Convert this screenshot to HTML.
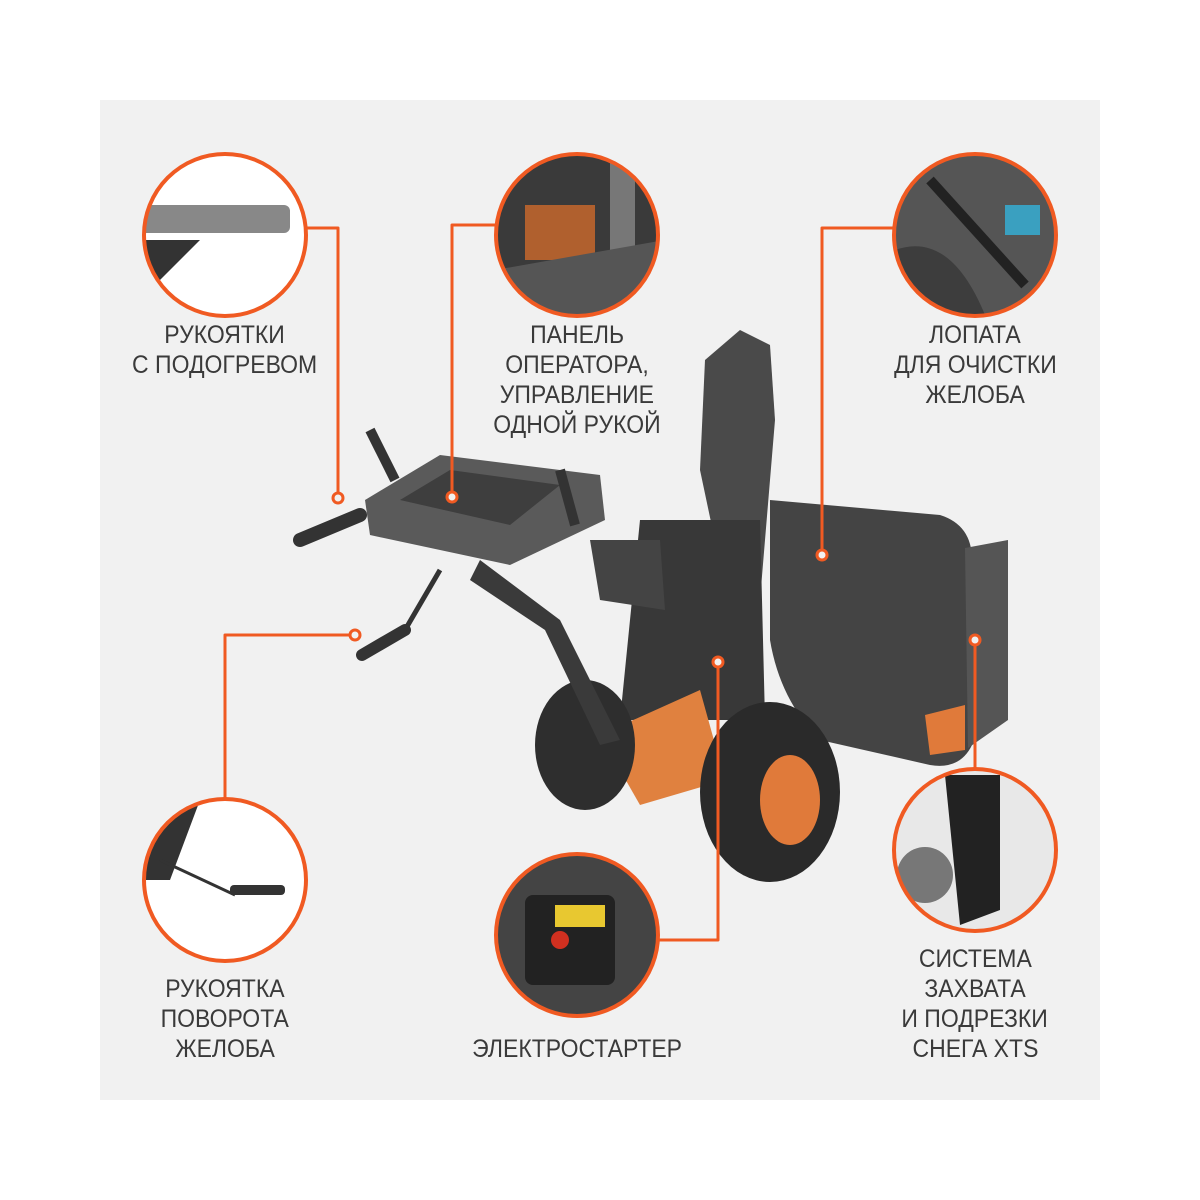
<!DOCTYPE html>
<html><head><meta charset="utf-8"><style>
body{margin:0;width:1200px;height:1200px;background:#fff;position:relative;overflow:hidden;font-family:"Liberation Sans",sans-serif}
.panel{position:absolute;left:100px;top:100px;width:1000px;height:1000px;background:#f1f1f1}
.lbl{position:absolute;width:300px;text-align:center;color:#3a3a3a;font-size:25px;line-height:30px}
.lbl span{display:inline-block;transform:scaleX(.92);transform-origin:center;white-space:nowrap}
svg{position:absolute;left:0;top:0}
</style></head><body>
<div class="panel"></div>
<svg width="1200" height="1200" viewBox="0 0 1200 1200">
<defs><clipPath id="c1"><circle cx="225" cy="235" r="80"/></clipPath>
<clipPath id="c2"><circle cx="577" cy="235" r="80"/></clipPath>
<clipPath id="c3"><circle cx="975" cy="235" r="80"/></clipPath>
<clipPath id="c4"><circle cx="225" cy="880" r="80"/></clipPath>
<clipPath id="c5"><circle cx="577" cy="935" r="80"/></clipPath>
<clipPath id="c6"><circle cx="975" cy="850" r="80"/></clipPath></defs>
<g>
<path d="M770 500 L940 515 Q972 525 972 560 L972 745 Q960 770 930 765 L820 740 Q780 700 770 640 Z" fill="#444"/>
<path d="M965 548 L1008 540 L1008 720 L968 748 Z" fill="#555"/>
<path d="M925 715 L965 705 L965 750 L930 755 Z" fill="#e07a3a"/>
<path d="M705 360 L740 330 L770 345 L775 420 L760 600 L730 612 L700 470 Z" fill="#4a4a4a"/>
<path d="M640 520 L760 520 L765 720 L620 720 Z" fill="#383838"/>
<path d="M600 735 L700 690 L725 780 L640 805 Z" fill="#e0813f"/>
<ellipse cx="585" cy="745" rx="50" ry="65" fill="#2e2e2e"/>
<ellipse cx="770" cy="792" rx="70" ry="90" fill="#2a2a2a"/>
<ellipse cx="790" cy="800" rx="30" ry="45" fill="#e07a3a"/>
<path d="M480 560 L560 620 L620 740 L600 745 L545 630 L470 580 Z" fill="#3a3a3a"/>
<path d="M365 500 L440 455 L600 475 L605 520 L510 565 L370 535 Z" fill="#5a5a5a"/>
<path d="M400 500 L450 470 L560 485 L510 525 Z" fill="#3e3e3e"/>
<line x1="300" y1="540" x2="360" y2="515" stroke="#333" stroke-width="14" stroke-linecap="round"/>
<line x1="362" y1="655" x2="405" y2="630" stroke="#333" stroke-width="12" stroke-linecap="round"/>
<line x1="405" y1="630" x2="440" y2="570" stroke="#333" stroke-width="5"/>
<line x1="370" y1="430" x2="395" y2="480" stroke="#333" stroke-width="10"/>
<line x1="560" y1="470" x2="575" y2="525" stroke="#333" stroke-width="10"/>
<path d="M590 540 L660 540 L665 610 L600 600 Z" fill="#444"/>
</g>
<g fill="none" stroke="#f05a22" stroke-width="3" stroke-linejoin="round">
<path d="M305 228 H338 V492"/>
<path d="M497 225 H452 V491"/>
<path d="M895 228 H822 V549"/>
<path d="M225 800 V635 H349"/>
<path d="M657 940 H718 V668"/>
<path d="M975 770 V646"/>
</g>
<g fill="#f1f1f1" stroke="#f05a22" stroke-width="3">
<circle cx="338" cy="498" r="5"/><circle cx="452" cy="497" r="5"/><circle cx="822" cy="555" r="5"/>
<circle cx="355" cy="635" r="5"/><circle cx="718" cy="662" r="5"/><circle cx="975" cy="640" r="5"/>
</g>
<g fill="#fff"><circle cx="225" cy="235" r="80"/><circle cx="577" cy="235" r="80"/><circle cx="975" cy="235" r="80"/><circle cx="225" cy="880" r="80"/><circle cx="577" cy="935" r="80"/><circle cx="975" cy="850" r="80"/></g>
<g clip-path="url(#c1)"><rect x="140" y="205" width="150" height="28" rx="6" fill="#888"/><path d="M140 240 L200 240 L150 290 L140 290Z" fill="#333"/></g>
<g clip-path="url(#c2)"><rect x="495" y="155" width="170" height="160" fill="#3a3a3a"/><rect x="525" y="205" width="70" height="55" fill="#b0602e"/><rect x="610" y="160" width="25" height="110" fill="#777"/><path d="M495 270 L665 240 L665 315 L495 315Z" fill="#555"/></g>
<g clip-path="url(#c3)"><rect x="895" y="155" width="160" height="160" fill="#555"/><path d="M895 250 Q950 230 985 315 L895 315Z" fill="#3d3d3d"/><line x1="930" y1="180" x2="1025" y2="285" stroke="#222" stroke-width="10"/><rect x="1005" y="205" width="35" height="30" fill="#3aa0c0"/></g>
<g clip-path="url(#c4)"><path d="M145 800 L200 800 L170 880 L145 880Z" fill="#333"/><line x1="160" y1="860" x2="235" y2="895" stroke="#333" stroke-width="3"/><rect x="230" y="885" width="55" height="10" rx="4" fill="#333"/></g>
<g clip-path="url(#c5)"><rect x="495" y="855" width="165" height="160" fill="#444"/><rect x="525" y="895" width="90" height="90" rx="8" fill="#222"/><rect x="555" y="905" width="50" height="22" fill="#e8c830"/><circle cx="560" cy="940" r="9" fill="#d03020"/></g>
<g clip-path="url(#c6)"><rect x="895" y="770" width="160" height="160" fill="#e8e8e8"/><path d="M945 775 L1000 775 L1000 910 L960 925 Z" fill="#222"/><circle cx="925" cy="875" r="28" fill="#777"/></g>
<g fill="none" stroke="#f05a22" stroke-width="4"><circle cx="225" cy="235" r="81"/><circle cx="577" cy="235" r="81"/><circle cx="975" cy="235" r="81"/><circle cx="225" cy="880" r="81"/><circle cx="577" cy="935" r="81"/><circle cx="975" cy="850" r="81"/></g>
</svg>
<div class="lbl" style="left:75px;top:320px"><span>РУКОЯТКИ</span><br><span>С ПОДОГРЕВОМ</span></div>
<div class="lbl" style="left:427px;top:320px"><span>ПАНЕЛЬ</span><br><span>ОПЕРАТОРА,</span><br><span>УПРАВЛЕНИЕ</span><br><span>ОДНОЙ РУКОЙ</span></div>
<div class="lbl" style="left:825px;top:320px"><span>ЛОПАТА</span><br><span>ДЛЯ ОЧИСТКИ</span><br><span>ЖЕЛОБА</span></div>
<div class="lbl" style="left:75px;top:974px"><span>РУКОЯТКА</span><br><span>ПОВОРОТА</span><br><span>ЖЕЛОБА</span></div>
<div class="lbl" style="left:427px;top:1034px"><span>ЭЛЕКТРОСТАРТЕР</span></div>
<div class="lbl" style="left:825px;top:944px"><span>СИСТЕМА</span><br><span>ЗАХВАТА</span><br><span>И ПОДРЕЗКИ</span><br><span>СНЕГА XTS</span></div>
</body></html>
